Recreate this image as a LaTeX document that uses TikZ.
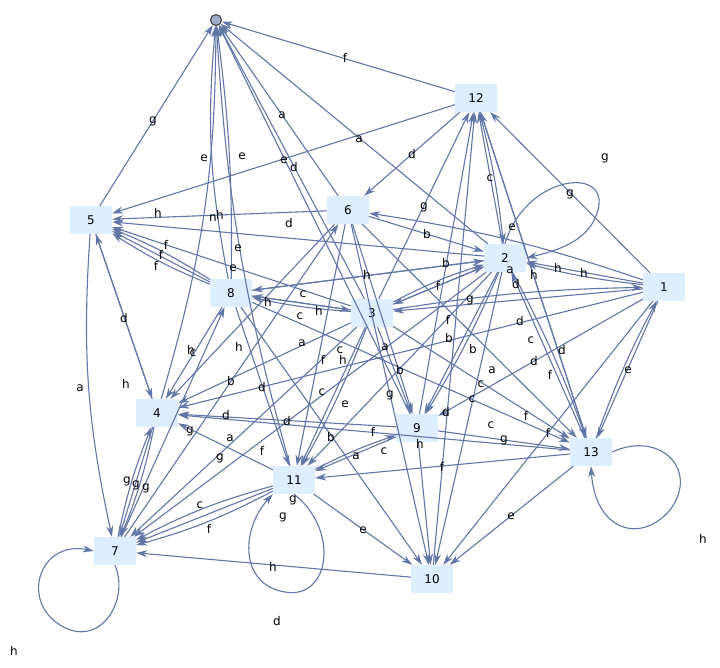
\documentclass[tikz,border=0pt]{standalone}
\usepackage{fontspec}
\setmainfont{DejaVu Sans}
\usetikzlibrary{arrows.meta}
\definecolor{edgec}{HTML}{5F76A6}
\definecolor{nodefill}{HTML}{DDEEFF}
\tikzset{
 vtx/.style={fill=nodefill, minimum width=42pt, minimum height=28pt, inner sep=0pt, font=\fontsize{12}{14}\selectfont},
 ed/.style={draw=edgec, line width=1.1pt, -{Stealth[length=11pt,width=7pt]}},
 lb/.style={font=\fontsize{12}{14}\selectfont, inner sep=0pt}
}
\begin{document}
\begin{tikzpicture}[x=1pt,y=-1pt]
\useasboundingbox (0,0) rectangle (720,668);
\node[circle, draw=black!80, fill=edgec!60, minimum size=11pt, inner sep=0pt, line width=1pt] (n0) at (216,20) {};
\node[vtx] (n12) at (476,98) {12};
\node[vtx] (n5) at (91,220) {5};
\node[vtx] (n6) at (348,210) {6};
\node[vtx] (n2) at (505,258) {2};
\node[vtx] (n1) at (664,287) {1};
\node[vtx] (n8) at (231,293) {8};
\node[vtx] (n3) at (372,313) {3};
\node[vtx] (n4) at (157,413) {4};
\node[vtx] (n9) at (417,428) {9};
\node[vtx] (n13) at (591,452) {13};
\node[vtx] (n11) at (294,480) {11};
\node[vtx] (n7) at (115,551) {7};
\node[vtx] (n10) at (432,579) {10};
\foreach \a/\b/\bd in {
 n12/n0/0, n5/n0/0, n6/n0/0, n4/n0/-8, n8/n0/8, n3/n0/0, n9/n0/0, n8/n0/-4, n2/n0/0, n11/n0/6,
 n12/n5/0, n12/n6/0, n2/n12/0, n1/n12/0, n13/n12/0, n10/n12/0, n3/n12/0, n9/n12/0,
 n6/n5/0, n2/n5/0, n8/n5/0, n8/n5/5, n8/n5/-5, n3/n5/0, n1/n6/-5,
 n2/n8/0, n6/n2/0, n3/n2/0, n8/n2/0, n1/n2/0, n1/n2/4, n3/n8/0, n8/n3/0, n3/n8/4,
 n2/n3/0, n3/n2/5, n1/n3/0, n3/n1/4, n5/n4/0, n8/n4/0, n5/n7/-8, n4/n5/0, n3/n7/0,
 n8/n13/0, n6/n4/0, n2/n7/0, n3/n4/0, n6/n11/0, n2/n11/0, n3/n9/0, n2/n9/0, n2/n9/4,
 n1/n9/0, n1/n4/0, n13/n2/0, n2/n13/4, n1/n13/0, n13/n1/4, n6/n13/0, n3/n13/0, n12/n13/0,
 n9/n4/0, n13/n4/0, n11/n4/0, n11/n7/0, n4/n7/0, n4/n7/5, n7/n4/5, n9/n11/0, n11/n9/4,
 n3/n11/0, n3/n11/4, n13/n11/0, n9/n10/0, n11/n10/0, n13/n10/0, n1/n10/0, n2/n10/0,
 n11/n7/-6, n11/n7/6, n10/n7/0, n9/n13/0, n8/n11/0, n6/n9/0, n6/n10/0, n8/n10/0, n7/n8/0, n7/n6/0, n12/n2/4
}{\draw[ed] (\a) to[bend left=\bd] (\b);}
\draw[ed] (n2.north) .. controls (525,175) and (610,165) .. (598,210) .. controls (590,240) and (560,250) .. (n2.east);
\draw[ed] (n13.east) .. controls (660,430) and (700,470) .. (670,510) .. controls (640,545) and (595,530) .. (n13.south);
\draw[ed] (n7.south) .. controls (130,600) and (100,650) .. (60,625) .. controls (20,600) and (40,540) .. (n7.west);
\draw[ed] (n11.south) .. controls (340,530) and (330,600) .. (285,592) .. controls (240,585) and (240,530) .. (n11.south west);
\foreach \t/\x/\y in {
 f/345/58, g/153/121, a/282/115, a/359/139, e/204/158, e/242/156, e/284/160, d/294/167,
 d/412/154, c/490/178, g/570/194, g/605/158, h/158/213, n/213/218, h/220/215,
 f/166/245, f/161/255, f/156/266, e/238/248, d/289/223, g/424/207, b/427/234, e/233/268,
 e/512/227, h/558/268, h/584/273, c/303/294, h/268/302, c/300/316, h/319/311, f/438/286,
 f/448/320, d/124/318, h/191/350, c/193/353, a/80/388, h/126/384, h/239/347,
 b/231/381, d/262/387, d/226/415, a/302/343, f/323/360, c/322/392, e/345/404, b/400/370,
 g/390/395, b/449/338, b/473/349, c/481/384, a/492/370, d/520/321, c/531/340, d/534/361,
 d/562/350, e/628/370, f/550/375, f/526/416, f/548/433, d/287/421, g/190/431, a/230/438,
 g/220/458, g/127/481, g/136/485, g/146/488, a/356/456, c/384/451, f/373/432, f/442/467,
 e/363/530, e/511/516, c/200/505, f/209/529, h/273/567, d/277/621, h/14/651, h/703/539,
 c/491/425, g/504/440, c/472/399, d/446/412, f/262/451, b/331/437, g/293/500, g/283/517,
 a/385/347, h/367/275, b/446/263, a/510/270, d/516/284, h/534/275, g/470/300,
 c/340/350, h/343/360, h/420/444
}{\node[lb] at (\x,\y) {\t};}
\end{tikzpicture}
\end{document}
